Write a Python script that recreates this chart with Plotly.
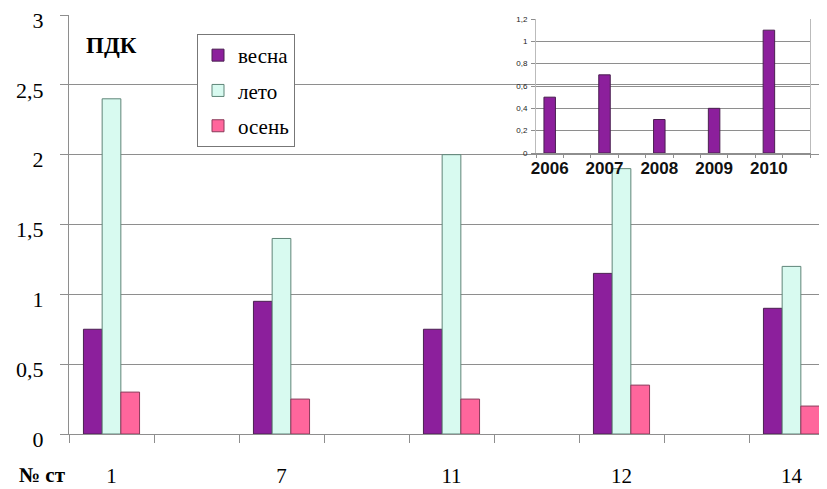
import plotly.graph_objects as go

# ---- data ----
stations = ["1", "7", "11", "12", "14"]
station_pos = [0, 2, 4, 6, 8]
spring = [0.75, 0.95, 0.75, 1.15, 0.9]
summer = [2.4, 1.4, 2.0, 1.9, 1.2]
autumn = [0.3, 0.25, 0.25, 0.35, 0.2]
series_names = ["весна", "лето", "осень"]

years = ["2006", "2007", "2008", "2009", "2010"]
year_pos = [0, 2, 4, 6, 8]
year_vals = [0.5, 0.7, 0.3, 0.4, 1.1]

y_ticks = [0, 0.5, 1, 1.5, 2, 2.5, 3]
inset_ticks = [0, 0.2, 0.4, 0.6, 0.8, 1.0, 1.2]

colors = ["#8C1F9C", "#D8FAF0", "#FF669C"]
edges = ["#4a2050", "#5f8578", "#8a3a5a"]
serif = "Liberation Serif"
sans = "Liberation Sans"
grid = "#8e8e8e"

fig = go.Figure()
for i, (name, vals) in enumerate(zip(series_names, [spring, summer, autumn])):
    fig.add_trace(go.Bar(
        x=station_pos, y=vals, name=name, legendgroup=name,
        marker=dict(color=colors[i], line=dict(color=edges[i], width=1)),
        xaxis="x", yaxis="y"))

fig.add_trace(go.Bar(
    x=year_pos, y=year_vals, width=0.42, showlegend=False,
    marker=dict(color="#8C1F9C", line=dict(color="#4a2050", width=1)),
    xaxis="x2", yaxis="y2"))

# page has an 8px body margin; figure sized to fill the rest
OFF = 8
W, H = 827 - OFF, 489 - OFF
L, T, B = 69 - OFF, 15 - OFF, 489 - 434
R = 0
pw = W - L - R
ph = H - T - B

fig.update_layout(
    width=W, height=H,
    margin=dict(l=L, r=R, t=T, b=B, autoexpand=False),
    paper_bgcolor="white", plot_bgcolor="rgba(0,0,0,0)",
    separators=", ",
    barmode="group", bargap=0.67, bargroupgap=0,
    font=dict(family=serif, color="black"),
    showlegend=True,
    legend=dict(x=(197 - 69) / pw, y=(434 - 34) / ph, xanchor="left", yanchor="top",
                bgcolor="white", bordercolor="#777", borderwidth=1,
                font=dict(family=serif, size=21, color="black"),
                tracegroupgap=5, itemwidth=30),
    xaxis=dict(range=[-0.5, -0.5 + pw / 85.0], domain=[0, 1], automargin=False,
               tickvals=station_pos, ticktext=stations, ticks="",
               tickfont=dict(family=serif, size=21, color="black"),
               ticklabelstandoff=23, ticklabeloverflow="allow",
               showgrid=False, zeroline=False,
               showline=True, linecolor=grid, linewidth=1,
               minor=dict(tickvals=[-0.5 + k for k in range(9)], ticks="outside",
                          ticklen=8, tickcolor=grid, showgrid=False)),
    yaxis=dict(range=[0, 3], domain=[0, 1], tickvals=y_ticks, automargin=False,
               ticks="outside", ticklen=8, tickcolor=grid,
               tickfont=dict(family=serif, size=22, color="black"),
               ticklabelshift=5,
               ticklabelstandoff=12, ticklabeloverflow="allow",
               showgrid=True, gridcolor=grid, gridwidth=1, zeroline=False,
               showline=True, linecolor=grid, linewidth=1),
    xaxis2=dict(range=[-0.5, 9.5], automargin=False,
                domain=[(536 - 69) / pw, (810 - 69) / pw], anchor="y2",
                tickvals=year_pos, ticktext=years, ticks="",
                tickfont=dict(family=sans, size=17, color="#111", weight="bold"),
                ticklabelstandoff=0, ticklabeloverflow="allow",
                showgrid=False, zeroline=False,
                showline=True, linecolor=grid, linewidth=1, mirror=False,
                minor=dict(tickvals=[-0.5 + k for k in range(11)], ticks="outside",
                           ticklen=4, tickcolor=grid, showgrid=False)),
    yaxis2=dict(range=[0, 1.2], domain=[(434 - 153) / ph, (434 - 19) / ph],
                anchor="x2", tickvals=inset_ticks, automargin=False,
                ticks="outside", ticklen=4, tickcolor=grid,
                tickfont=dict(family=sans, size=8, color="#222"),
                ticklabelstandoff=2, ticklabeloverflow="allow",
                showgrid=True, gridcolor=grid, gridwidth=1, zeroline=False,
                showline=True, linecolor="#bbb", linewidth=1, mirror=True),
    annotations=[
        dict(text="ПДК", x=(84 - 69) / pw, y=(434 - 45) / ph,
             xref="paper", yref="paper", xanchor="left", yanchor="middle",
             showarrow=False,
             font=dict(family=serif, size=23, color="black", weight="bold")),
        dict(text="№ ст", x=(17 - 69) / pw, y=(434 - 475) / ph,
             xref="paper", yref="paper", xanchor="left", yanchor="middle",
             showarrow=False,
             font=dict(family=serif, size=21, color="black", weight="bold")),
    ],
)

fig.write_html("out.html")
